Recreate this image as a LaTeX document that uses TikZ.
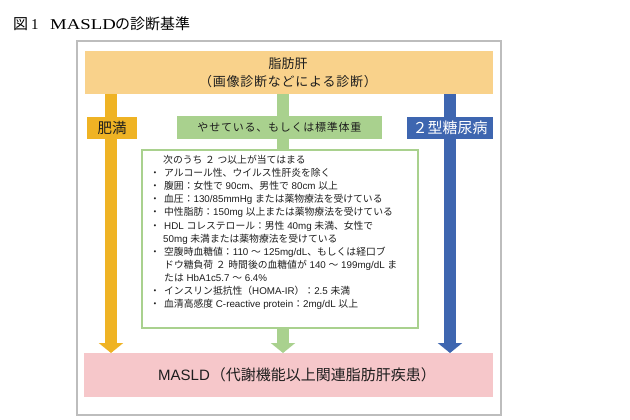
\documentclass[tikz,border=0pt]{standalone}
\usepackage{graphicx}
\usepackage{fontspec}
\setmainfont{Noto Sans CJK JP}
\newfontfamily\ser{Liberation Serif}
\newfontfamily\lat{Liberation Sans}
\newcommand\lt[1]{{\lat #1}}
\usetikzlibrary{arrows.meta,backgrounds}
\definecolor{topfill}{HTML}{F9D28B}
\definecolor{orng}{HTML}{EFB324}
\definecolor{grn}{HTML}{A9D18E}
\definecolor{blu}{HTML}{3E66B0}
\definecolor{pnk}{HTML}{F6C7CA}
\definecolor{frm}{HTML}{BDBDBD}
\definecolor{ink}{HTML}{1E1E1E}
\newcommand\bul{\makebox[14pt][l]{・}}
\begin{document}
\begin{tikzpicture}[x=1pt,y=-1pt,
  box/.style={inner sep=0pt,outer sep=0pt,align=center,text=ink},
  col/.style={line width=12pt,-{Triangle[width=24pt,length=10pt]}},
  li/.style={anchor=base west,inner sep=0pt,font=\fontsize{9.8pt}{11pt}\selectfont,text=ink}]
\useasboundingbox (0,0) rectangle (630,420);
% title
\node[anchor=base west,inner sep=0pt,font=\fontsize{15pt}{16pt}\selectfont] (title) at (13,29.5) {図\makebox[22pt][l]{\hspace{3pt}\ser 1}\makebox[65pt][l]{\scalebox{1.25}[1]{\ser MASLD}}の診断基準};
% boxes
\node[box,fill=topfill,minimum width=408pt,minimum height=43pt] (top) at (289,72.5) {};
\node[box,font=\fontsize{13pt}{17.5pt}\selectfont] (toptxt) at (288,72.5) {脂肪肝\\{\addfontfeature{LetterSpace=6}（画像診断などによる診断）}};
\node[box,fill=orng,minimum width=50pt,minimum height=22pt,font=\fontsize{14.5pt}{16pt}\selectfont] (obese) at (112,128) {肥満};
\node[box,fill=grn,minimum width=205pt,minimum height=23pt,font=\fontsize{11pt}{13pt}\selectfont] (lean) at (279.5,127.5) {\addfontfeature{LetterSpace=7}やせている、もしくは標準体重};
\node[box,fill=blu,text=white,minimum width=86pt,minimum height=22pt,font=\fontsize{15pt}{16pt}\selectfont] (dm) at (450,128) {２型糖尿病};
\node[box,draw=grn,line width=1.5pt,fill=white,minimum width=276pt,minimum height=178pt] (crit) at (280,239) {};
\node[box,fill=pnk,minimum width=409pt,minimum height=44pt] (masld) at (288.5,375) {};
\node[box,font=\fontsize{15pt}{16pt}\selectfont] (masldtxt) at (297,375) {\lt{MASLD}\hspace{1pt}（代謝機能以上関連脂肪肝疾患）};
% criteria list
\node[li] (l1) at (163,163.5) {次のうち\lt{ }２\lt{ }つ以上が当てはまる};
\node[li] (l2) at (150,176.6) {\bul アルコール性、ウイルス性肝炎を除く};
\node[li] (l3) at (150,189.7) {\bul 腹囲：女性で\lt{ 90cm}、男性で\lt{ 80cm }以上};
\node[li] (l4) at (150,202.8) {\bul 血圧：\lt{130/85mmHg }または薬物療法を受けている};
\node[li] (l5) at (150,215.9) {\bul 中性脂肪：\lt{150mg }以上または薬物療法を受けている};
\node[li] (l6) at (150,229.0) {\bul \lt{HDL }コレステロール：男性\lt{ 40mg }未満、女性で};
\node[li] (l7) at (163,242.1) {\lt{50mg }未満または薬物療法を受けている};
\node[li] (l8) at (150,255.2) {\bul 空腹時血糖値：\lt{110 }～\lt{ 125mg/dL}、もしくは経口ブ};
\node[li] (l9) at (164,268.3) {ドウ糖負荷\lt{ }２\lt{ }時間後の血糖値が\lt{ 140 }～\lt{ 199mg/dL }ま};
\node[li] (l10) at (164,281.4) {たは\lt{ HbA1c5.7 }～\lt{ 6.4\%}};
\node[li] (l11) at (150,294.5) {\bul インスリン抵抗性（\lt{HOMA-IR}）：\lt{2.5 }未満};
\node[li] (l12) at (150,307.6) {\bul 血清高感度\lt{ C-reactive protein}：\lt{2mg/dL }以上};
% background: frame and arrows
\coordinate (ox) at (111,0);
\coordinate (gx) at (283,0);
\coordinate (bx) at (450,0);
\begin{scope}[on background layer]
  \fill[white] (0,0) rectangle (630,420);
  \draw[frm,line width=1.2pt] (77,41) rectangle (501,415);
  \draw[col,orng] (top.south -| ox) -- (masld.north -| ox);
  \draw[col,grn] (top.south -| gx) -- (masld.north -| gx);
  \draw[col,blu] (top.south -| bx) -- (masld.north -| bx);
\end{scope}
\end{tikzpicture}
\end{document}
